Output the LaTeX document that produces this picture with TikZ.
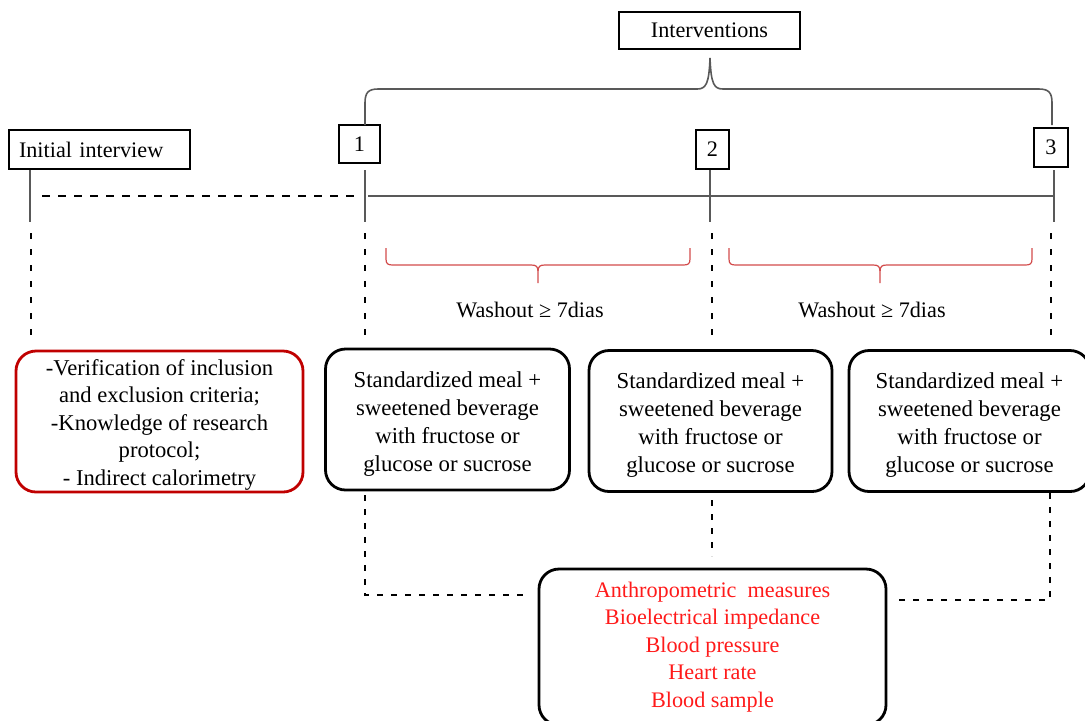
\documentclass[tikz,border=0pt]{standalone}
\usepackage{fontspec}
\setmainfont{Liberation Serif}
\usetikzlibrary{positioning}
\definecolor{linegray}{HTML}{595959}
\definecolor{bracered}{HTML}{D24B4B}
\definecolor{boxred}{HTML}{C00000}
\definecolor{textred}{HTML}{FF1A1A}

\begin{document}
\begin{tikzpicture}[x=0.5pt,y=-0.5pt,
  font=\fontsize{11.1}{14}\selectfont,
  tag/.style={draw,line width=0.7pt,inner sep=0pt},
  stagebox/.style={draw,line width=1.4pt,rounded corners=10pt,align=center,
    minimum width=122pt,minimum height=70.5pt,inner sep=0pt,
    font=\fontsize{11.4}{14}\selectfont},
  solidline/.style={linegray,line width=0.7pt},
  dotline/.style={line width=1pt,dash pattern=on 3pt off 5pt},
  dashline/.style={line width=1pt,dash pattern=on 4pt off 4pt},
  linkline/.style={line width=1pt,dash pattern=on 3pt off 4pt},
  washbrace/.style={bracered,line width=0.6pt}]
\useasboundingbox (0,0) rectangle (1085,720);

% labels on the time line
\node[tag,minimum width=90.5pt,minimum height=18.5pt] (interv) at (709.5,30.5) {Interventions};
\node[tag,minimum height=19.5pt,text width=80.5pt,inner xsep=5pt,align=left] (init) at (99.5,149.5) {Initial interview};
\node[tag,minimum width=20.5pt,minimum height=19pt] (t1) at (359.5,144) {1};
\node[tag,minimum width=16.5pt,minimum height=19.5pt] (t2) at (712.5,149.5) {2};
\node[tag,minimum width=17pt,minimum height=19.5pt] (t3) at (1051,147.5) {3};

% stages
\node[stagebox,draw=boxred,minimum width=143.5pt,font=\fontsize{11.3}{13.75}\selectfont] (prep) at (159.5,421.5)
  {\rule{0pt}{11pt}-Verification of inclusion\\and exclusion criteria;\\-Knowledge of research\\protocol;\\- Indirect calorimetry};
\node[stagebox] (mealA) at (447.5,419.5)
  {\rule{0pt}{12pt}Standardized meal +\\sweetened beverage\\with fructose or\\glucose or sucrose};
\node[stagebox,minimum width=121.5pt] (mealB) at (710.5,421)
  {\rule{0pt}{12pt}Standardized meal +\\sweetened beverage\\with fructose or\\glucose or sucrose};
\node[stagebox,minimum width=120.5pt] (mealC) at (969.5,421)
  {\rule{0pt}{12pt}Standardized meal +\\sweetened beverage\\with fructose or\\glucose or sucrose};
\node[stagebox,minimum width=173.5pt,minimum height=78pt,text=textred,
  font=\fontsize{11.1}{13.75}\selectfont] (meas) at (712.5,647)
  {Anthropometric~ measures\\Bioelectrical impedance\\Blood pressure\\Heart rate\\Blood sample};

\node (wash1) at (530,310) {Washout ≥ 7dias};
\node (wash2) at (872,310) {Washout ≥ 7dias};

% time line
\coordinate (i0) at (30,170);
\coordinate (i1) at (30,222);
\coordinate (a0) at (365,170);
\coordinate (a1) at (365,222);
\coordinate (b0) at (710,170);
\coordinate (b1) at (710,222);
\coordinate (c0) at (1054,170);
\coordinate (c1) at (1054,222);
\draw[solidline] (i0) -- (i1);
\draw[solidline] (a0) -- (a1);
\draw[solidline] (b0) -- (b1);
\draw[solidline] (c0) -- (c1);
\draw[dashline] (42,196) -- (355,196);
\draw[solidline] (368,196) -- (1055,196);

% brace over the interventions
\draw[solidline,line width=0.8pt] (365,125) -- (365,103) .. controls (365,93) and (368,89) .. (378,89)
  -- (697,89) .. controls (706,89) and (709,84) .. (710,58)
  .. controls (711,84) and (714,89) .. (723,89) -- (1039,89)
  .. controls (1049,89) and (1052,93) .. (1052,103) -- (1052,125);

% washout braces
\draw[washbrace] (386,248) -- (386,259) .. controls (386,264) and (388,265) .. (393,265) -- (531,265)
  .. controls (536,265) and (538,266) .. (538,272) -- (538,283) -- (538,272)
  .. controls (538,266) and (540,265) .. (545,265) -- (683,265)
  .. controls (688,265) and (690,264) .. (690,259) -- (690,248);
\draw[washbrace] (729,248) -- (729,259) .. controls (729,264) and (731,265) .. (736,265) -- (873,265)
  .. controls (878,265) and (880,266) .. (880,272) -- (880,283) -- (880,272)
  .. controls (880,266) and (882,265) .. (887,265) -- (1025,265)
  .. controls (1030,265) and (1032,264) .. (1032,259) -- (1032,248);

% dotted links down to the stages
\draw[dotline] (31,233) -- (31,337);
\draw[dotline] (365,233) -- (365,337);
\draw[dotline] (712,233) -- (712,337);
\draw[dotline] (1051,233) -- (1051,337);

% links to the measures
\coordinate (la) at (365,495);
\coordinate (lb) at (712,500);
\coordinate (lc) at (1050,493);
\draw[linkline] (la) |- (530,595);
\draw[linkline] (lb) -- (712,556);
\draw[linkline] (lc) |- (896,600);
\end{tikzpicture}
\end{document}
